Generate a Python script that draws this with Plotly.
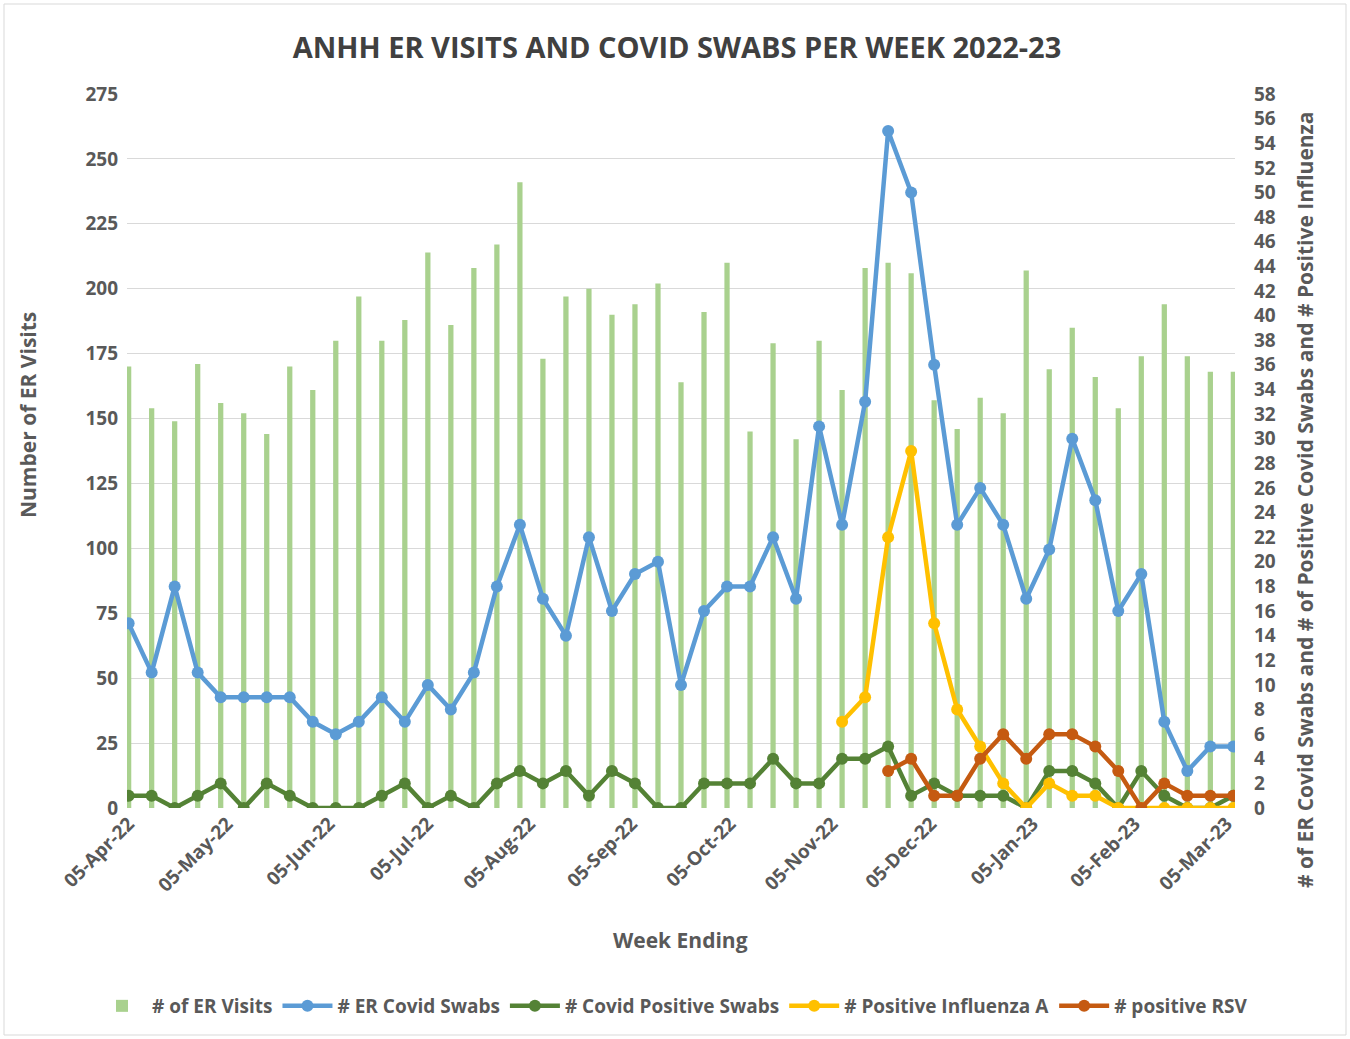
import plotly.graph_objects as go

weeks = ["2022-04-05","2022-04-12","2022-04-19","2022-04-26","2022-05-03","2022-05-10","2022-05-17",
         "2022-05-24","2022-05-31","2022-06-07","2022-06-14","2022-06-21","2022-06-28","2022-07-05",
         "2022-07-12","2022-07-19","2022-07-26","2022-08-02","2022-08-09","2022-08-16","2022-08-23",
         "2022-08-30","2022-09-06","2022-09-13","2022-09-20","2022-09-27","2022-10-04","2022-10-11",
         "2022-10-18","2022-10-25","2022-11-01","2022-11-08","2022-11-15","2022-11-22","2022-11-29",
         "2022-12-06","2022-12-13","2022-12-20","2022-12-27","2023-01-03","2023-01-10","2023-01-17",
         "2023-01-24","2023-01-31","2023-02-07","2023-02-14","2023-02-21","2023-02-28","2023-03-07"]

er_visits = [170,154,149,171,156,152,144,170,161,180,
             197,180,188,214,186,208,217,241,173,197,
             200,190,194,202,164,191,210,145,179,142,
             180,161,208,210,206,157,146,158,152,207,
             169,185,166,154,174,194,174,168,168]

covid_swabs = [15,11,18,11,9,9,9,9,7,6,
               7,9,7,10,8,11,18,23,17,14,
               22,16,19,20,10,16,18,18,22,17,
               31,23,33,55,50,36,23,26,23,17,
               21,30,25,16,19,7,3,5,5]

covid_positive = [1,1,0,1,2,0,2,1,0,0,
                  0,1,2,0,1,0,2,3,2,3,
                  1,3,2,0,0,2,2,2,4,2,
                  2,4,4,5,1,2,1,1,1,0,
                  3,3,2,0,3,1,0,0,1]

influenza_a = [None]*31 + [7,9,22,29,15,8,5,2,0,2,1,1,0,0,0,0,0,0]

rsv = [None]*33 + [3,4,1,1,4,6,4,6,6,5,3,0,2,1,1,1]

FONT = "Open Sans"
GRAY = "#595959"

fig = go.Figure()
fig.add_trace(go.Bar(x=weeks, y=er_visits, name="# of ER Visits",
                     marker=dict(color="#A9D18E", line=dict(width=0)),
                     width=1.6*86400000, yaxis="y"))

line_series = [
    ("# ER Covid Swabs", covid_swabs, "#5B9BD5"),
    ("# Covid Positive Swabs", covid_positive, "#548235"),
    ("# Positive Influenza A", influenza_a, "#FFC000"),
    ("# positive RSV", rsv, "#C55A11"),
]
for name, vals, col in line_series:
    fig.add_trace(go.Scatter(x=weeks, y=vals, name=name, mode="lines+markers",
                             line=dict(color=col, width=4.5),
                             marker=dict(color=col, size=12),
                             yaxis="y2", connectgaps=False))

TICKFONT = dict(family=FONT, size=19, color=GRAY, weight="bold")

fig.update_layout(
    width=1350, height=1039,
    margin=dict(l=127, r=115, t=94, b=231, autoexpand=False),
    paper_bgcolor="white", plot_bgcolor="white",
    font=dict(family=FONT, color=GRAY),
    title=dict(text="<b>ANHH ER VISITS AND COVID SWABS PER WEEK 2022-23</b>",
               x=(677)/1350, xanchor="center", y=1-48/1039, yanchor="middle",
               font=dict(family=FONT, size=29, color="#404040")),
    xaxis=dict(type="date", range=["2022-04-04 12:00", "2023-03-07 12:00"],
               tickmode="linear", tick0="2022-04-05", dtick="M1", tickformat="%d-%b-%y",
               tickangle=-45, showgrid=False, zeroline=False, showline=False,
               ticks="", tickfont=TICKFONT),
    yaxis=dict(range=[0, 275], tickmode="linear", tick0=0, dtick=25,
               showgrid=True, gridcolor="#D9D9D9", gridwidth=1, zeroline=False,
               showline=False, ticks="", ticklabelstandoff=8, tickfont=TICKFONT),
    yaxis2=dict(range=[0, 58], tickmode="linear", tick0=0, dtick=2, overlaying="y",
                side="right", showgrid=False, zeroline=False, showline=False, ticks="",
                ticklabelstandoff=18, tickfont=TICKFONT),
    legend=dict(orientation="h", x=(92-127)/1108, xanchor="left", y=(808-1006)/714, yanchor="middle",
                font=dict(family=FONT, size=19, color=GRAY, weight="bold"),
                traceorder="normal", itemwidth=50),
    showlegend=True,
)

fig.add_annotation(text="<b>Number of ER Visits</b>", xref="paper", yref="paper",
                   x=(28-127)/1108, y=(808-415)/714, textangle=-90, showarrow=False,
                   font=dict(family=FONT, size=21, color=GRAY), xanchor="center", yanchor="middle")
fig.add_annotation(text="<b># of ER Covid Swabs and # of Positive Covid Swabs and # Positive Influenza</b>",
                   xref="paper", yref="paper",
                   x=(1305-127)/1108, y=(808-500)/714, textangle=-90, showarrow=False,
                   font=dict(family=FONT, size=21, color=GRAY), xanchor="center", yanchor="middle")
fig.add_annotation(text="<b>Week Ending</b>", xref="paper", yref="paper",
                   x=(680-127)/1108, y=(808-940)/714, showarrow=False,
                   font=dict(family=FONT, size=21, color=GRAY), xanchor="center", yanchor="middle")

fig.add_shape(type="rect", xref="paper", yref="paper",
              x0=(4-127)/1108, x1=(1346-127)/1108, y0=(808-1035)/714, y1=(808-4)/714,
              line=dict(color="#D9D9D9", width=1), fillcolor="rgba(0,0,0,0)", layer="below")

fig.write_html("out.html")
